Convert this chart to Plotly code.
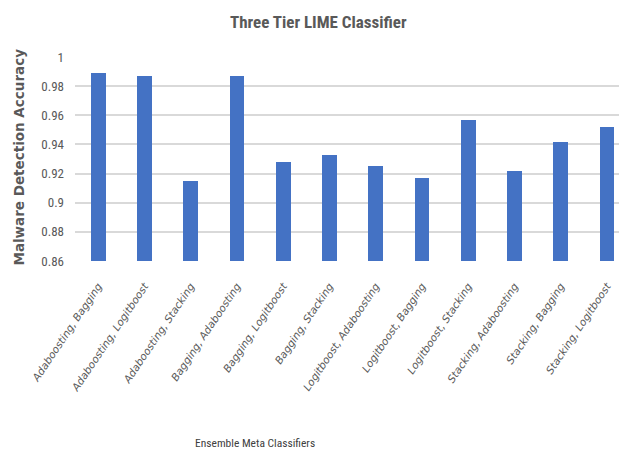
import plotly.graph_objects as go

# Ensemble pairs and their malware detection accuracy
classifiers = [
    "Adaboosting, Bagging", "Adaboosting, Logitboost", "Adaboosting, Stacking",
    "Bagging, Adaboosting", "Bagging, Logitboost", "Bagging, Stacking",
    "Logitboost, Adaboosting", "Logitboost, Bagging", "Logitboost, Stacking",
    "Stacking, Adaboosting", "Stacking, Bagging", "Stacking, Logitboost",
]
accuracy = [0.989, 0.987, 0.915, 0.987, 0.928, 0.933,
            0.925, 0.917, 0.957, 0.922, 0.942, 0.952]
y_ticks = [0.86, 0.88, 0.90, 0.92, 0.94, 0.96, 0.98, 1.0]
y_tick_text = ["0.86", "0.88", "0.9", "0.92", "0.94", "0.96", "0.98", "1"]

NARROW = "Liberation Sans Narrow, Roboto Condensed, Liberation Sans, sans-serif"
GREY = "#595959"

fig = go.Figure(
    go.Bar(
        x=list(range(len(classifiers))),
        y=accuracy,
        base=0,
        width=0.32,
        marker=dict(color="#4472C4", line=dict(width=0)),
    )
)

fig.update_layout(
    width=619,
    height=452,
    paper_bgcolor="white",
    plot_bgcolor="white",
    margin=dict(l=74.5, r=0, t=57, b=191),
    showlegend=False,
    bargap=0,
    xaxis=dict(
        range=[-0.5, 11.26],
        tickmode="array",
        tickvals=list(range(len(classifiers))),
        ticktext=[f"<i>{c}</i>" for c in classifiers],
        tickangle=-56,
        tickfont=dict(family="DejaVu Sans, sans-serif", size=10.5,
                      color=GREY, style="italic"),
        showgrid=False,
        showline=False,
        ticks="",
        zeroline=False,
        ticklabelstandoff=16,
    ),
    yaxis=dict(
        range=[0.86, 1.0],
        tickmode="array",
        tickvals=y_ticks,
        ticktext=y_tick_text,
        tickfont=dict(family=NARROW, size=13, color=GREY),
        showgrid=True,
        gridcolor="#D9D9D9",
        gridwidth=1.5,
        zeroline=False,
        showline=False,
        ticks="",
        ticklabelstandoff=10,
    ),
    annotations=[
        dict(
            text="<b>Three Tier LIME Classifier</b>",
            x=318, y=452 - 22,
            showarrow=False, xanchor="center", yanchor="middle",
            font=dict(family=NARROW, size=17, color=GREY),
        ),
        dict(
            text="<b>Malware Detection Accuracy</b>",
            x=18, y=452 - 157, textangle=-90,
            showarrow=False, xanchor="center", yanchor="middle",
            font=dict(family="DejaVu Sans, Verdana, sans-serif", size=13.5, color=GREY),
        ),
        dict(
            text="Ensemble Meta Classifiers",
            x=255, y=452 - 443,
            showarrow=False, xanchor="center", yanchor="middle",
            font=dict(family=NARROW, size=11.5, color="#404040"),
        ),
    ],
)

# Annotations are positioned in pixel terms relative to the full canvas
for a in fig.layout.annotations:
    a.xref = "paper"
    a.yref = "paper"
    a.x = (a.x - 74.5) / (619 - 74.5)
    a.y = (a.y - 191) / (452 - 57 - 191)

fig.write_html("out.html")
